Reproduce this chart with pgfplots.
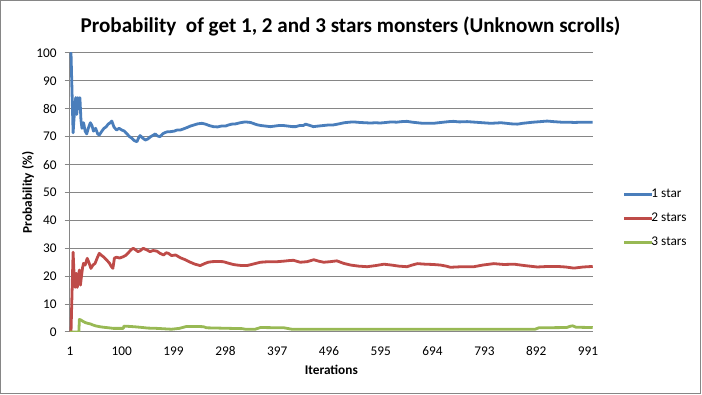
\documentclass[border=0pt]{standalone}
\usepackage{fontspec}
\setmainfont{Carlito}
\usepackage{pgfplots}
\pgfplotsset{compat=1.18}
\definecolor{s1}{HTML}{4A7EBB}
\definecolor{s2}{HTML}{BE4B48}
\definecolor{s3}{HTML}{98B954}
\definecolor{gridc}{HTML}{868686}
\begin{document}
\begin{tikzpicture}[x=1pt,y=1pt]
\useasboundingbox (0,0) rectangle (702,395);
\draw[gridc, line width=1pt] (0.5,1.5) rectangle (700.5,394.5);
\begin{axis}[
  at={(69.7pt,63pt)}, anchor=south west, scale only axis,
  width=523.3pt, height=279pt,
  xmin=0.5, xmax=1000.5, ymin=0, ymax=100,
  xtick={1,100,199,298,397,496,595,694,793,892,991},
  ytick={0,10,20,30,40,50,60,70,80,90,100},
  axis x line*=bottom, axis y line*=left,
  axis line style={-, gridc, line width=1pt},
  ymajorgrids, grid style={gridc, line width=1pt},
  xtick style={draw=none},
  ytick style={gridc, line width=1pt},
  tick align=outside, major tick length=5pt,
  /pgf/number format/assume math mode=true,
  ticklabel style={font=\fontsize{13.3}{16}\selectfont, inner sep=0pt},
  xticklabel style={anchor=north, yshift=-9.5pt},
  yticklabel style={anchor=east, xshift=-8pt},
  title={Probability~ of get 1, 2 and 3 stars monsters (Unknown scrolls)},
  title style={at={(axis description cs:0.5366,1)}, anchor=center, yshift=21pt, font=\bfseries\fontsize{21.1}{25}\selectfont},
  xlabel={Iterations},
  xlabel style={at={(axis description cs:0.5,0)}, anchor=center, yshift=-38pt, font=\bfseries\fontsize{13.3}{16}\selectfont},
  ylabel={Probability (\%)},
  ylabel style={at={(axis description cs:-0.0797,0.5)}, anchor=center, font=\bfseries\fontsize{13.3}{16}\selectfont},
  legend style={draw=none, fill=none, at={(axis description cs:1.0567,0.514)}, anchor=north west,
    inner sep=0pt, outer sep=0pt, font=\fontsize{13.3}{16}\selectfont, row sep=12pt,
    nodes={inner sep=0pt, text height=9pt, text depth=3pt},
    /tikz/every odd column/.append style={column sep=-2pt}},
  legend cell align=left,
  legend image code/.code={\draw[#1, line width=2.8pt] (0pt,0pt) -- (28pt,0pt);},
  every axis plot/.append style={line width=2.8pt, line join=round},
]
\addplot[s1] coordinates {
(1,100)(3,100)(7,71.4)(10,80)(12,84)(14,78)(16,84)(18,80)(20,84)(22,76)(24,73)(27,75)(30,72)(33,71)(36,73)(40,75)(43,74)(46,72)(50,73)(54,71)(57,70.6)(62,72)(66,73)(70,73.5)(74,74.5)(78,75)(81,75.6)(85,73.5)(90,72.4)(95,73)(100,72.4)(105,72)(110,71)(115,70)(119,69.5)(124,68.6)(129,68.2)(132,69.5)(135,70.4)(140,69.5)(145,68.8)(150,69.2)(155,70)(160,70.5)(164,71)(168,70.3)(173,70)(178,71)(183,71.5)(188,71.8)(193,71.8)(200,72)(206,72.4)(212,72.4)(218,72.8)(225,73.3)(231,73.8)(238,74.2)(245,74.6)(253,74.8)(260,74.5)(267,74)(275,73.6)(283,73.5)(290,73.8)(298,73.8)(304,74.2)(310,74.5)(318,74.6)(326,75)(336,75.3)(346,75.1)(358,74.3)(366,74)(375,73.8)(384,73.6)(392,73.8)(400,74)(409,74)(418,73.8)(426,73.6)(432,73.6)(440,74)(447,74)(451,74.5)(460,74)(466,73.6)(475,73.8)(485,74)(495,74.2)(504,74.2)(515,74.6)(525,75)(535,75.2)(543,75.3)(555,75.1)(565,75)(575,74.9)(585,75)(594,74.9)(605,75.1)(615,75.3)(625,75.2)(635,75.4)(645,75.5)(655,75.2)(665,75)(675,74.8)(685,74.8)(696,74.8)(705,75)(715,75.2)(725,75.4)(734,75.5)(745,75.3)(760,75.4)(775,75.2)(790,75)(805,74.8)(815,74.9)(825,75)(835,74.8)(845,74.6)(856,74.5)(866,74.8)(876,75)(886,75.2)(900,75.4)(913,75.6)(925,75.4)(940,75.2)(952,75.2)(965,75.1)(980,75.2)(1000,75.2)
};
\addlegendentry{1 star}
\addplot[s2] coordinates {
(1,0)(3,0)(7,28.6)(9,20)(11,16)(13,21)(15,16)(17,20)(19,22.2)(21,16.8)(23,20)(25,23)(27,24.6)(30,24)(34,26.4)(37,25)(41,22.8)(45,24)(49,24.6)(53,26.5)(57,28.2)(61,27.5)(66,26.8)(71,25.8)(76,24.8)(80,23.5)(83,22.8)(86,26.5)(90,26.8)(96,26.5)(103,27)(108,27.5)(113,28.5)(118,29.5)(122,30)(126,29.5)(131,28.8)(135,29.1)(141,30)(147,29.5)(154,28.8)(160,29.2)(167,29)(173,28.2)(180,27.6)(185,28.4)(189,28.2)(195,27.4)(203,27.6)(212,26.6)(220,26)(231,25)(240,24.3)(250,23.8)(258,24.5)(265,25)(272,25.2)(283,25.3)(294,25.2)(305,24.6)(313,24.2)(320,24)(330,23.8)(339,23.8)(350,24.3)(365,25)(380,25.2)(397,25.2)(410,25.4)(420,25.6)(428,25.7)(441,25)(454,25.2)(467,25.9)(476,25.4)(486,25)(498,25.2)(511,25.5)(524,24.6)(537,24)(553,23.6)(569,23.4)(585,23.8)(601,24.3)(615,24)(630,23.6)(645,23.4)(655,24)(665,24.5)(680,24.3)(695,24.2)(709,24)(720,23.6)(728,23.2)(750,23.4)(773,23.4)(790,24)(811,24.5)(830,24.2)(850,24.3)(870,23.8)(894,23.3)(915,23.5)(932,23.5)(948,23.3)(964,22.9)(982,23.3)(1000,23.5)
};
\addlegendentry{2 stars}
\addplot[s3] coordinates {
(1,0)(18,0)(19,4.5)(22,4.3)(26,3.8)(30,3.4)(35,3.1)(40,2.9)(45,2.5)(50,2.2)(58,1.9)(65,1.7)(75,1.5)(84,1.3)(103,1.3)(104,2.1)(115,2.0)(129,1.8)(140,1.6)(150,1.4)(167,1.3)(185,1.1)(195,1.0)(210,1.3)(224,2.0)(240,2.0)(256,1.9)(262,1.5)(330,1.2)(336,1.0)(355,1.0)(365,1.6)(410,1.5)(419,1.2)(425,1.0)(890,1.0)(897,1.5)(950,1.6)(958,2.1)(962,2.2)(968,1.7)(1000,1.6)
};
\addlegendentry{3 stars}
\end{axis}
\end{tikzpicture}
\end{document}
